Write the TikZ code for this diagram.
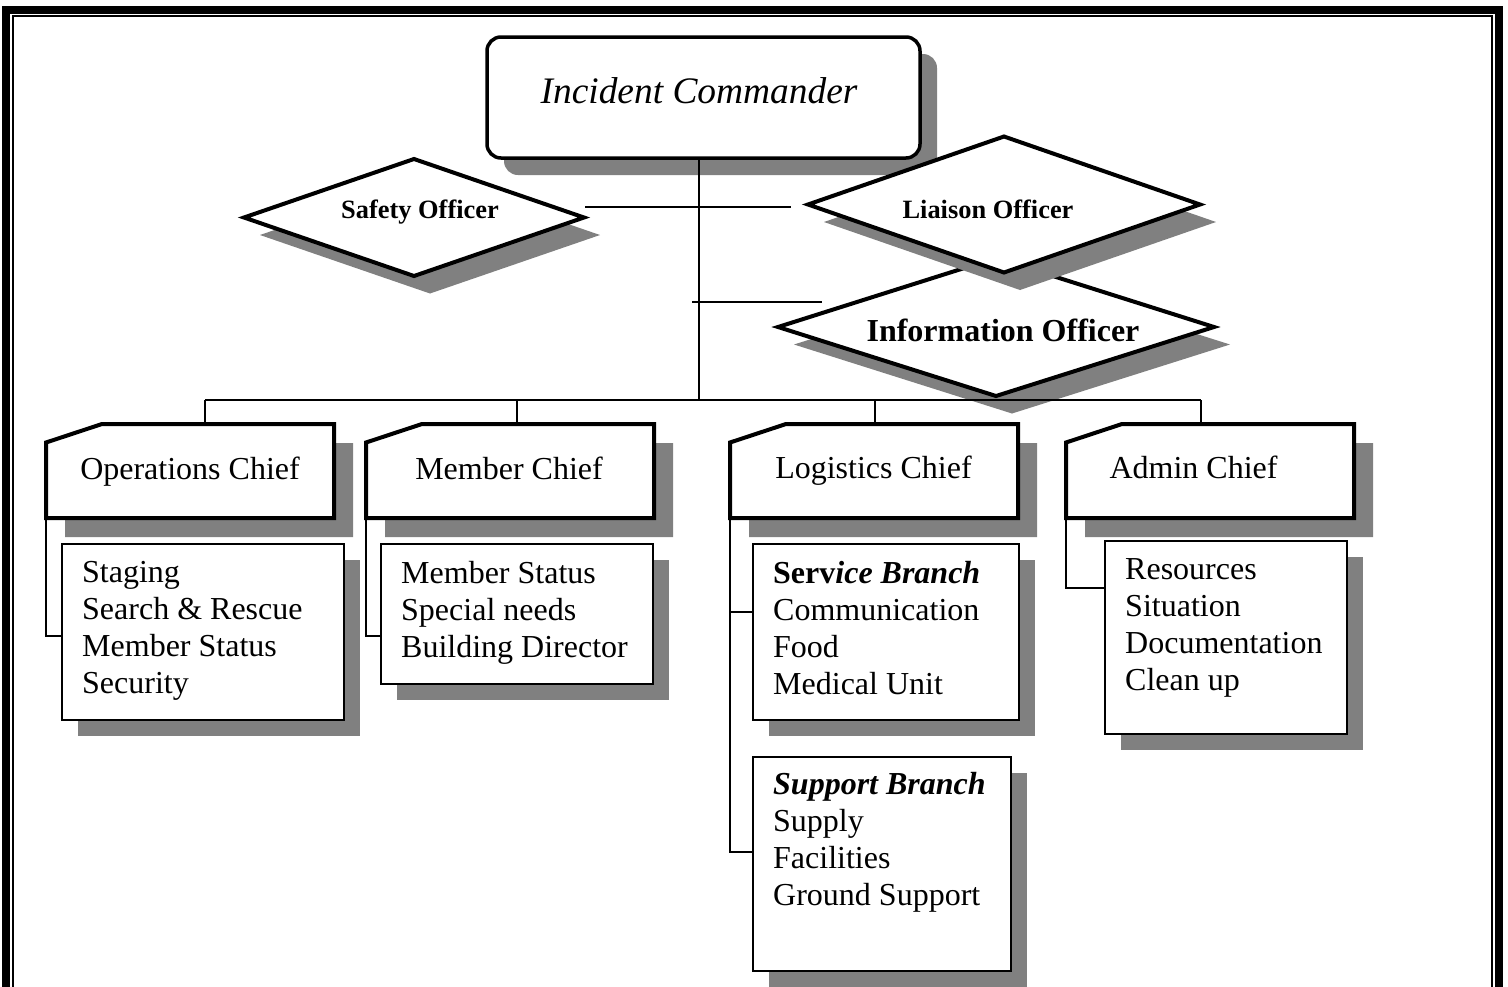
\documentclass[tikz,border=0pt]{standalone}
\usepackage{fontspec}
\setmainfont{Liberation Serif}
\usetikzlibrary{shapes.geometric,shadows,calc}
\definecolor{shadowgray}{RGB}{128,128,128}

\tikzset{
  sh/.style 2 args={drop shadow={shadow xshift=#1, shadow yshift=-#2, opacity=1, fill=shadowgray}},
  cmdbox/.style={rectangle, draw, line width=3.5, rounded corners=14, fill=white, sh={17pt}{17pt},
    minimum width=433, minimum height=121, inner sep=0, outer sep=0},
  officer/.style={diamond, draw, line width=4, fill=white, sh={16pt}{17.5pt}, inner sep=0, outer sep=0},
  chiefframe/.style={rectangle, inner sep=0, outer sep=0, minimum width=288, minimum height=94},
  subbox/.style={rectangle, draw, line width=2, fill=white, sh={16pt}{16pt}, inner sep=0, outer sep=0},
  listtext/.style={anchor=north west, inner sep=0, align=left, font=\fontsize{32}{37}\selectfont},
  chieftext/.style={anchor=base, inner sep=0, font=\fontsize{32}{37}\selectfont},
  officertext/.style={anchor=base, inner sep=0, font=\bfseries\fontsize{26.4}{30}\selectfont},
  link/.style={line width=1.8},
}

% section chief box: shadow and chamfered outline around a frame node
\newcommand\chiefbox[1]{%
  \fill[shadowgray]
    ([xshift=19pt,yshift=-19pt]#1.south west) --
    ([xshift=19pt,yshift=-37.5pt]#1.north west) --
    ([xshift=75pt,yshift=-19pt]#1.north west) --
    ([xshift=19pt,yshift=-19pt]#1.north east) --
    ([xshift=19pt,yshift=-19pt]#1.south east) -- cycle;
  \draw[line width=4, fill=white]
    (#1.south west) --
    ([yshift=-18.5pt]#1.north west) --
    ([xshift=56pt]#1.north west) --
    (#1.north east) --
    (#1.south east) -- cycle;
}

\begin{document}
\begin{tikzpicture}[x=1pt,y=-1pt]
\path[use as bounding box] (0,0) rectangle (1508,986);
\clip (0,0) rectangle (1508,986);
\fill[white] (0,0) rectangle (1508,986);

% page frame
\draw[line width=8] (6,9.7) rectangle (1498.5,1010);
\draw[line width=1.8] (12.7,16.3) rectangle (1491.8,1005);

% command staff
\node[cmdbox] (ic) at (703.5,97.5) {};
\node[anchor=base, inner sep=0, font=\itshape\fontsize{37.4}{44}\selectfont] (icText) at (699,103) {Incident Commander};

\node[officer, minimum width=340, minimum height=117] (safety) at (414,217.5) {};
\node[officertext] (safetyText) at (420,218) {Safety Officer};

\node[officer, minimum width=436, minimum height=138] (info) at (996,327) {};
\node[anchor=base, inner sep=0, font=\bfseries\fontsize{32}{37}\selectfont] (infoText) at (1003,341) {Information Officer};

\node[officer, minimum width=392, minimum height=136] (liaison) at (1004,204.5) {};
\node[officertext] (liaisonText) at (988,218) {Liaison Officer};

% section chiefs
\node[chiefframe] (ops) at (190,471) {};
\node[chiefframe] (mem) at (510,471) {};
\node[chiefframe] (logi) at (874,471) {};
\node[chiefframe] (adm) at (1210,471) {};
\chiefbox{ops}
\chiefbox{mem}
\chiefbox{logi}
\chiefbox{adm}
\node[chieftext] (opsText) at (190,479) {Operations Chief};
\node[chieftext] (memText) at (509,479) {Member Chief};
\node[chieftext] (logiText) at (873.5,478) {Logistics Chief};
\node[chieftext] (admText) at (1193.5,478) {Admin Chief};

% unit lists
\node[subbox, minimum width=282, minimum height=176] (opsSub) at (203,632) {};
\node[subbox, minimum width=272, minimum height=140] (memSub) at (517,614) {};
\node[subbox, minimum width=266, minimum height=176] (servSub) at (886,632) {};
\node[subbox, minimum width=258, minimum height=214] (suppSub) at (882,864) {};
\node[subbox, minimum width=242, minimum height=193] (admSub) at (1226,637.5) {};

\node[listtext] (opsList) at ([xshift=20pt,yshift=-17pt]opsSub.north west)
  {Staging\\Search \& Rescue\\Member Status\\Security};
\node[listtext] (memList) at ([xshift=20pt,yshift=-17pt]memSub.north west)
  {Member Status\\Special needs\\Building Director};
\node[listtext] (servList) at ([xshift=20pt,yshift=-17pt]servSub.north west)
  {{\bfseries Serv\itshape ice Branch}\\Communication\\Food\\Medical Unit};
\node[listtext] (suppList) at ([xshift=20pt,yshift=-15pt]suppSub.north west)
  {{\bfseries\itshape Support Branch}\\Supply\\Facilities\\Ground Support};
\node[listtext] (admList) at ([xshift=20pt,yshift=-17pt]admSub.north west)
  {Resources\\Situation\\Documentation\\Clean up};

% reporting lines
\coordinate (icTap) at (699,400);
\coordinate (tapOps) at (205,400);
\coordinate (tapMem) at (517,400);
\coordinate (tapLog) at (875,400);
\coordinate (tapAdm) at (1201,400);
\coordinate (staffL) at ([xshift=1pt,yshift=10.5pt]safety.east);
\coordinate (staffR) at ([xshift=-17pt,yshift=-2.5pt]liaison.west);
\coordinate (infoL) at (692,302);
\coordinate (infoR) at (822,302);

\draw[link] (icTap |- ic.south) -- (icTap);
\draw[link] (staffL) -- (staffR);
\draw[link] (infoL) -- (infoR);
\draw[link] (tapOps) -- (tapAdm);
\draw[link] (tapOps) -- (tapOps |- ops.north);
\draw[link] (tapMem) -- (tapMem |- mem.north);
\draw[link] (tapLog) -- (tapLog |- logi.north);
\draw[link] (tapAdm) -- (tapAdm |- adm.north);

\draw[link] (ops.south west) |- ([yshift=-4pt]opsSub.west);
\draw[link] (mem.south west) |- ([yshift=-22pt]memSub.west);
\draw[link] (logi.south west) |- ([yshift=12pt]suppSub.west);
\draw[link] ([yshift=20pt]servSub.west) -| (logi.south west);
\draw[link] (adm.south west) |- ([yshift=49.5pt]admSub.west);
\end{tikzpicture}
\end{document}
